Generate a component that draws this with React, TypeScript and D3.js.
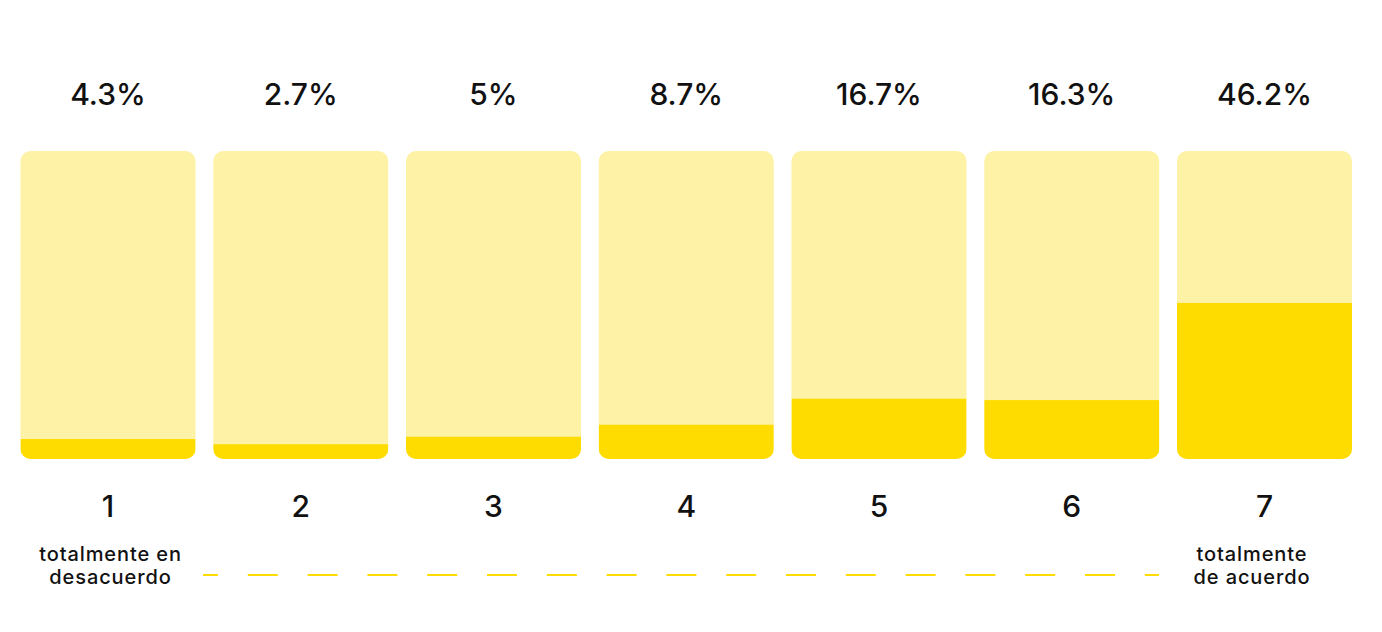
import { useMemo } from 'react';
import * as d3 from 'd3';

const WIDTH = 1382;
const HEIGHT = 632;
const BAR_TOP = 151;
const BAR_BOTTOM = 459;
const RADIUS = 10;

const LIGHT = '#fef2a6';
const DARK = '#ffdc00';
const INK = '#111111';
const FONT = 'Inter, "Open Sans", sans-serif';

const categories = ['1', '2', '3', '4', '5', '6', '7'];
const shares = [4.3, 2.7, 5, 8.7, 16.7, 16.3, 46.2];
const leftLabel = ['totalmente en', 'desacuerdo'];
const rightLabel = ['totalmente', 'de acuerdo'];

export default function App() {
    const xScale = useMemo(() => {
        return d3.scaleBand<string>().domain(categories).range([20.5, 1352]).paddingInner(0.092).paddingOuter(0);
    }, []);

    // fill level inside each bar (small floor so tiny values still show)
    const fillScale = useMemo(() => {
        return d3.scaleLinear().domain([0, 93]).range([6, BAR_BOTTOM - BAR_TOP]);
    }, []);

    const bw = xScale.bandwidth();
    const first = categories[0];
    const last = categories[categories.length - 1];
    const lineX0 = xScale(first)! + bw + 7.5;
    const lineX1 = xScale(last)! - 18;

    const bars = categories.map((c, i) => {
        const x = xScale(c)!;
        const h = fillScale(shares[i]);
        return (
            <g key={c}>
                <clipPath id={`clip-${c}`}>
                    <rect x={x} y={BAR_TOP} width={bw} height={BAR_BOTTOM - BAR_TOP} rx={RADIUS} ry={RADIUS} />
                </clipPath>
                <rect x={x} y={BAR_TOP} width={bw} height={BAR_BOTTOM - BAR_TOP} rx={RADIUS} ry={RADIUS} fill={LIGHT} />
                <rect x={x} y={BAR_BOTTOM - h} width={bw} height={h} fill={DARK} clipPath={`url(#clip-${c})`} />
                <text x={x + bw / 2} y={105} textAnchor="middle" fontSize={30} fontWeight={500} fill={INK}>
                    {`${shares[i]}%`}
                </text>
                <text x={x + bw / 2} y={517} textAnchor="middle" fontSize={30} fontWeight={500} fill={INK}>
                    {c}
                </text>
            </g>
        );
    });

    const leftX = xScale(first)! + bw / 2 + 2.5;
    const rightX = xScale(last)! + bw / 2 - 12.5;

    return (
        <svg
            width={WIDTH}
            height={HEIGHT}
            style={{ position: 'absolute', left: 0, top: 0, background: '#fff' }}
            fontFamily={FONT}
        >
            {bars}
            <line
                x1={lineX0}
                x2={lineX1}
                y1={575}
                y2={575}
                stroke={DARK}
                strokeWidth={2}
                strokeDasharray="30 29.8"
                strokeDashoffset={15}
            />
            <text textAnchor="middle" fontSize={20} fontWeight={500} letterSpacing={0.9} fill={INK}>
                {leftLabel.map((t, i) => (
                    <tspan key={t} x={leftX} y={561 + i * 23}>
                        {t}
                    </tspan>
                ))}
            </text>
            <text textAnchor="middle" fontSize={20} fontWeight={500} letterSpacing={0.9} fill={INK}>
                {rightLabel.map((t, i) => (
                    <tspan key={t} x={rightX} y={561 + i * 23}>
                        {t}
                    </tspan>
                ))}
            </text>
        </svg>
    );
}
